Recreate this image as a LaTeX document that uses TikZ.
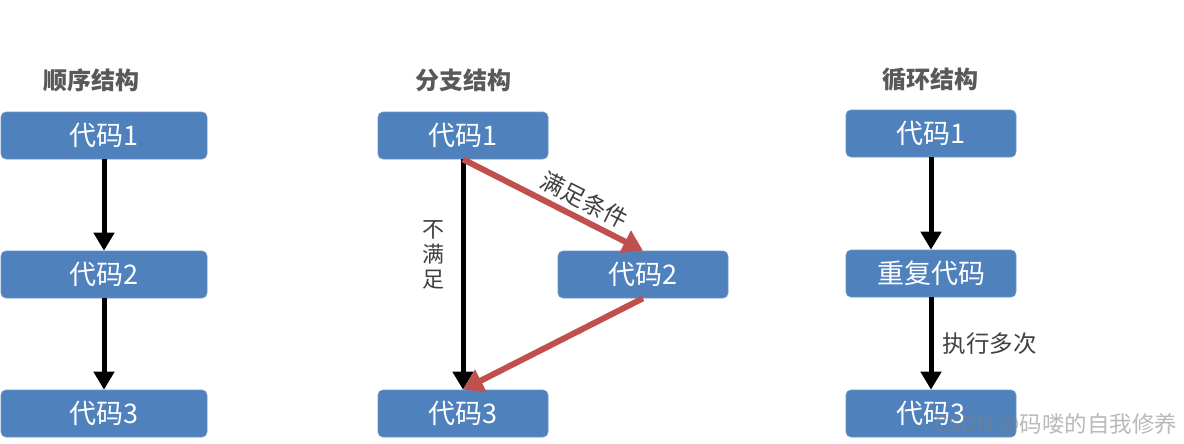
\documentclass[tikz,border=0pt]{standalone}
\usepackage{fontspec}
\setmainfont{Noto Sans CJK SC}
\usetikzlibrary{arrows.meta}
\definecolor{boxblue}{HTML}{4F81BD}
\definecolor{titlegray}{HTML}{595959}
\definecolor{labelgray}{HTML}{404040}
\definecolor{arrred}{HTML}{C0504D}
\tikzset{
  codebox/.style={rectangle, rounded corners=5pt, fill=boxblue, draw=boxblue!85!white, line width=0.6pt,
    minimum width=170pt, minimum height=47pt, inner sep=0pt, text=white, font=\fontsize{27}{30}\selectfont},
  title/.style={text=titlegray, font=\fontsize{24}{28}\selectfont\bfseries},
  lbl/.style={text=labelgray, font=\fontsize{23.5}{27}\selectfont, inner sep=1pt},
  blackarr/.style={draw=black, line width=5pt, -{Triangle[length=18pt,width=20pt]}},
  redarr/.style={draw=arrred, line width=6pt, -{Triangle[length=20pt,width=24pt]}},
  wm/.style={text=gray, opacity=0.55, font=\fontsize{22.5}{26}\selectfont}
}
\begin{document}
\begin{tikzpicture}[x=1pt,y=-1pt]
\useasboundingbox (0,0) rectangle (1184,444);
% titles
\node[title] (t1) at (91,80) {顺序结构};
\node[title] (t2) at (463,80) {分支结构};
\node[title] (t3) at (930,80) {循环结构};
% sequential
\node[codebox, minimum width=206pt] (s1) at (104,135.5) {代码1};
\node[codebox, minimum width=206pt] (s2) at (104,274.5) {代码2};
\node[codebox, minimum width=206pt] (s3) at (104,413.5) {代码3};
\draw[blackarr] (s1.south) -- (s2.north);
\draw[blackarr] (s2.south) -- (s3.north);
% branch
\node[codebox] (b1) at (463,135.5) {代码1};
\node[codebox] (b2) at (643,274.5) {代码2};
\node[codebox] (b3) at (463,413.5) {代码3};
\draw[blackarr] (b1.south) -- (b3.north);
\draw[redarr] (b1.south) -- node[lbl, pos=0.63, above=4pt, sloped] (yes) {满足条件} (b2.north);
\draw[redarr] (b2.south) -- (b3.north);
\node[lbl, align=center, font=\fontsize{22}{25}\selectfont] (no) at (433,255) {不\\满\\足};
% loop
\node[codebox] (l1) at (931,133.5) {代码1};
\node[codebox] (l2) at (931,273.5) {重复代码};
\node[codebox] (l3) at (931,413.5) {代码3};
\draw[blackarr] (l1.south) -- (l2.north);
\draw[blackarr] (l2.south) -- node[lbl, right=8pt] (many) {执行多次} (l3.north);
% watermark
\node[wm, anchor=east] (mark) at (1181,425) {CSDN @码喽的自我修养};
\end{tikzpicture}
\end{document}
